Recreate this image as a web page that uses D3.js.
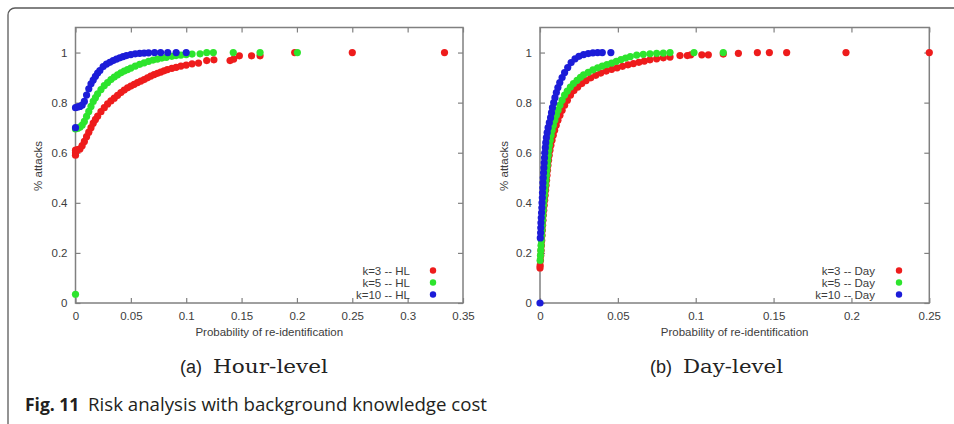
<!DOCTYPE html>
<html>
<head>
<meta charset="utf-8">
<script src="https://cdn.jsdelivr.net/npm/d3@7"></script>
<style>
  body { margin: 0; background: #fff; }
  svg { display: block; }
  text { font-family: "Liberation Sans", Arial, sans-serif; }
</style>
</head>
<body>
<div class="graph"></div>
<script>
const width = 954;
const height = 424;

// hour-level: [probability of re-identification, share of attacks]
const hlK3 = [[0,0.59],[0,0.60],[0,0.61],[0.002,0.612],[0.004,0.615],[0.006,0.628],[0.008,0.645],[0.010,0.664],
  [0.012,0.682],[0.014,0.70],[0.016,0.718],[0.018,0.733],[0.020,0.746],[0.023,0.764],[0.026,0.780],[0.029,0.795],
  [0.032,0.807],[0.035,0.818],[0.038,0.829],[0.041,0.840],[0.044,0.850],[0.047,0.859],[0.050,0.866],[0.053,0.873],
  [0.056,0.880],[0.059,0.886],[0.062,0.892],[0.065,0.899],[0.068,0.906],[0.071,0.912],[0.074,0.917],[0.077,0.922],
  [0.080,0.927],[0.083,0.932],[0.087,0.937],[0.0909,0.941],[0.0952,0.946],[0.1,0.950],[0.1053,0.955],[0.1111,0.958],
  [0.1185,0.968],[0.125,0.971],[0.1396,0.968],[0.1429,0.974],[0.148,0.987],[0.159,0.987],[0.1667,0.987],
  [0.198,1.0],[0.25,1.0],[0.3333,1.0]];
const hlK5 = [[0,0.035],[0,0.695],[0.002,0.698],[0.004,0.702],[0.006,0.71],[0.008,0.725],[0.010,0.745],[0.012,0.765],
  [0.014,0.785],[0.016,0.805],[0.018,0.82],[0.020,0.835],[0.023,0.852],[0.026,0.868],[0.029,0.88],[0.032,0.892],
  [0.035,0.902],[0.038,0.911],[0.041,0.919],[0.044,0.926],[0.047,0.932],[0.050,0.938],[0.054,0.946],[0.058,0.953],
  [0.062,0.959],[0.066,0.965],[0.070,0.970],[0.074,0.974],[0.078,0.978],[0.082,0.981],[0.087,0.985],[0.0909,0.988],
  [0.0952,0.990],[0.1,0.992],[0.1053,0.994],[0.1125,0.995],[0.1185,1.0],[0.1245,1.0],[0.1425,1.0],[0.1667,1.0],[0.2004,1.0]];
const hlK10 = [[0,0.70],[0,0.78],[0.002,0.783],[0.004,0.785],[0.006,0.79],[0.008,0.805],[0.010,0.83],[0.012,0.855],
  [0.014,0.875],[0.016,0.89],[0.018,0.905],[0.020,0.918],[0.022,0.928],[0.025,0.944],[0.028,0.954],[0.031,0.961],
  [0.034,0.968],[0.037,0.974],[0.040,0.979],[0.043,0.984],[0.046,0.988],[0.050,0.992],[0.054,0.995],[0.058,0.997],
  [0.062,0.998],[0.066,0.999],[0.0714,1.0],[0.0769,1.0],[0.0833,1.0],[0.0909,1.0],[0.1,1.0]];

// day-level
const dayK3 = [[0,0.14],[0.0001,0.15],[0.0003,0.17],[0.0005,0.19],[0.0007,0.21],[0.0009,0.23],[0.0011,0.25],[0.0013,0.27],
  [0.0015,0.29],[0.0017,0.31],[0.0019,0.33],[0.0021,0.35],[0.0024,0.37],[0.0027,0.39],[0.0030,0.41],[0.0033,0.43],
  [0.0036,0.45],[0.0039,0.47],[0.0042,0.49],[0.0045,0.51],[0.0048,0.53],[0.0051,0.55],[0.0055,0.57],[0.0059,0.59],
  [0.0064,0.61],[0.0070,0.63],[0.0077,0.65],[0.0085,0.67],[0.0094,0.69],[0.0104,0.71],[0.0115,0.73],[0.0128,0.75],
  [0.0142,0.77],[0.0158,0.79],[0.0176,0.81],[0.0196,0.83],[0.0218,0.848],[0.0242,0.862],[0.0268,0.876],[0.0296,0.888],
  [0.0326,0.899],[0.0358,0.909],[0.039,0.918],[0.0425,0.926],[0.046,0.933],[0.0495,0.939],[0.053,0.945],[0.0565,0.951],
  [0.060,0.956],[0.0635,0.961],[0.067,0.966],[0.0706,0.971],[0.0749,0.975],[0.0792,0.979],[0.0835,0.982],[0.0899,0.988],
  [0.0946,0.988],[0.0968,0.991],[0.1039,0.991],[0.1081,0.991],[0.1177,0.994],[0.1274,0.997],[0.1396,1.0],[0.1473,1.0],
  [0.1584,1.0],[0.1965,1.0],[0.25,1.0]];
const dayK5 = [[0.0001,0.17],[0.0003,0.19],[0.0005,0.21],[0.0007,0.23],[0.0009,0.25],[0.0011,0.27],[0.0013,0.29],[0.0015,0.31],
  [0.0017,0.33],[0.0019,0.35],[0.0021,0.37],[0.0023,0.39],[0.0026,0.41],[0.0029,0.43],[0.0032,0.45],[0.0035,0.47],
  [0.0038,0.49],[0.0041,0.51],[0.0044,0.53],[0.0047,0.55],[0.0050,0.57],[0.0053,0.59],[0.0056,0.61],[0.0060,0.63],
  [0.0065,0.65],[0.0071,0.67],[0.0078,0.69],[0.0086,0.71],[0.0095,0.73],[0.0105,0.75],[0.0116,0.77],[0.0128,0.79],
  [0.0142,0.81],[0.0158,0.83],[0.0175,0.846],[0.0195,0.862],[0.0215,0.876],[0.0238,0.889],[0.026,0.901],[0.028,0.911],
  [0.031,0.921],[0.034,0.931],[0.037,0.939],[0.040,0.946],[0.043,0.952],[0.046,0.958],[0.049,0.965],[0.052,0.972],
  [0.055,0.978],[0.058,0.984],[0.0621,0.990],[0.0663,0.993],[0.0706,0.995],[0.0749,0.997],[0.0792,0.998],[0.0835,1.0],
  [0.0989,1.0],[0.1177,1.0]];
const dayK10 = [[0,0],[0.0002,0.26],[0.0004,0.28],[0.0005,0.30],[0.0006,0.32],[0.0008,0.34],[0.0010,0.36],[0.0012,0.38],
  [0.0013,0.40],[0.0015,0.42],[0.0016,0.44],[0.0018,0.46],[0.0019,0.48],[0.0021,0.50],[0.0023,0.52],[0.0025,0.54],
  [0.0027,0.56],[0.0029,0.58],[0.0031,0.60],[0.0034,0.62],[0.0037,0.64],[0.0041,0.66],[0.0046,0.68],[0.0052,0.70],
  [0.0060,0.72],[0.0068,0.74],[0.0074,0.76],[0.0080,0.78],[0.0088,0.80],[0.0096,0.82],[0.0105,0.84],[0.0115,0.86],
  [0.0127,0.88],[0.0142,0.90],[0.0158,0.92],[0.0178,0.94],[0.0200,0.96],[0.0225,0.975],[0.025,0.985],[0.028,0.992],
  [0.031,0.996],[0.034,0.999],[0.037,1.0],[0.040,1.0],[0.0455,1.0]];

const seriesColors = ['#ee1c1c', '#2de42d', '#1c1cd8'];
const hlLabels = ['k=3 -- HL', 'k=5 -- HL', 'k=10 -- HL'];
const dayLabels = ['k=3 -- Day', 'k=5 -- Day', 'k=10 -- Day'];
const hlTicksX = [0, 0.05, 0.1, 0.15, 0.2, 0.25, 0.3, 0.35];
const dayTicksX = [0, 0.05, 0.1, 0.15, 0.2, 0.25];
const ticksY = [0, 0.2, 0.4, 0.6, 0.8, 1];
const xTitle = 'Probability of re-identification';
const yTitle = '% attacks';
const subLetters = ['(a)', '(b)'];
const subTitles = ['Hour-level', 'Day-level'];
const figLabel = 'Fig. 11';
const figText = 'Risk analysis with background knowledge cost';

const fmt = d3.format('~g');
const frameTop = 27.5, frameBottom = 303;
const legendRows = [270.5, 282.5, 294.5];

const draw_panel = (svg, p) => {
  const xScale = d3.scaleLinear().domain([0, d3.max(p.ticks)]).range([p.left, p.right]);
  const yScale = d3.scaleLinear().domain([0, 1.1]).range([frameBottom, frameTop]);
  const g = svg.append('g');

  g.append('rect')
    .attr('x', p.left).attr('y', frameTop)
    .attr('width', p.right - p.left).attr('height', frameBottom - frameTop)
    .attr('fill', 'none').attr('stroke', '#808080').attr('stroke-width', 1.5);

  // gnuplot style: inward ticks mirrored on all sides
  g.append('g').attr('transform', `translate(0,${frameBottom})`)
    .call(d3.axisBottom(xScale).tickValues(p.ticks).tickSize(-5).tickPadding(9).tickFormat(fmt));
  g.append('g').attr('transform', `translate(0,${frameTop})`)
    .call(d3.axisTop(xScale).tickValues(p.ticks).tickSize(-5).tickFormat(''));
  g.append('g').attr('transform', `translate(${p.left},0)`)
    .call(d3.axisLeft(yScale).tickValues(ticksY).tickSize(-5).tickPadding(8).tickFormat(fmt));
  g.append('g').attr('transform', `translate(${p.right},0)`)
    .call(d3.axisRight(yScale).tickValues(ticksY).tickSize(-5).tickFormat(''));
  g.selectAll('.domain').remove();
  g.selectAll('.tick line').attr('stroke', '#808080').attr('stroke-width', 1.2);
  g.selectAll('.tick text')
    .attr('fill', '#3c3c3c')
    .style('font-family', '"Liberation Sans", Arial, sans-serif')
    .style('font-size', '11.5px');

  g.append('text')
    .attr('x', (p.left + p.right) / 2).attr('y', 336)
    .attr('text-anchor', 'middle').attr('fill', '#3c3c3c')
    .style('font-size', '11.5px')
    .text(xTitle);
  g.append('text')
    .attr('transform', `translate(${p.yTitleX},166) rotate(-90)`)
    .attr('text-anchor', 'middle').attr('fill', '#3c3c3c')
    .style('font-size', '11.5px')
    .text(yTitle);

  p.series.forEach((s, i) => {
    g.append('g').selectAll('circle')
      .data(s)
      .join('circle')
      .attr('cx', d => xScale(d[0]))
      .attr('cy', d => yScale(d[1]))
      .attr('r', 3.6)
      .attr('fill', seriesColors[i]);
  });

  p.labels.forEach((l, i) => {
    g.append('text')
      .attr('x', p.legendX).attr('y', legendRows[i] + 4)
      .attr('text-anchor', 'end').attr('fill', '#3c3c3c')
      .style('font-size', '11.5px')
      .text(l);
    g.append('circle')
      .attr('cx', p.legendDot).attr('cy', legendRows[i])
      .attr('r', 3.2).attr('fill', seriesColors[i]);
  });

  // sub caption: sans letter + serif title
  g.append('text')
    .attr('x', p.subX).attr('y', 372.5)
    .attr('fill', '#222')
    .style('font-size', '18px')
    .text(p.letter);
  g.append('text')
    .attr('x', p.subX + 33).attr('y', 372.5)
    .attr('fill', '#222')
    .attr('textLength', p.subW).attr('lengthAdjust', 'spacingAndGlyphs')
    .style('font-family', '"DejaVu Serif", serif')
    .style('font-size', '19px')
    .text(p.title);
}

const draw_everything = () => {
  const svg = d3.select('.graph').append('svg')
    .attr('width', width)
    .attr('height', height);

  svg.append('path')
    .attr('d', 'M8,424 V15 A7,7 0 0 1 15,8 H954')
    .attr('fill', 'none').attr('stroke', '#5a5a5a').attr('stroke-width', 1.3);

  draw_panel(svg, {left: 75.5, right: 463, ticks: hlTicksX, series: [hlK3, hlK5, hlK10],
    labels: hlLabels, legendX: 410, legendDot: 433, yTitleX: 42,
    letter: subLetters[0], title: subTitles[0], subX: 180, subW: 115});
  draw_panel(svg, {left: 540, right: 929.3, ticks: dayTicksX, series: [dayK3, dayK5, dayK10],
    labels: dayLabels, legendX: 875, legendDot: 899, yTitleX: 508,
    letter: subLetters[1], title: subTitles[1], subX: 650, subW: 100});

  svg.append('text')
    .attr('x', 25).attr('y', 411)
    .attr('fill', '#231f20')
    .style('font-family', '"Open Sans", sans-serif')
    .style('font-weight', 'bold')
    .style('font-size', '17.5px')
    .text(figLabel);
  svg.append('text')
    .attr('x', 88).attr('y', 411)
    .attr('fill', '#231f20')
    .attr('textLength', 399).attr('lengthAdjust', 'spacingAndGlyphs')
    .style('font-family', '"Open Sans", sans-serif')
    .style('font-size', '17.5px')
    .text(figText);
}

draw_everything();
</script>
</body>
</html>
